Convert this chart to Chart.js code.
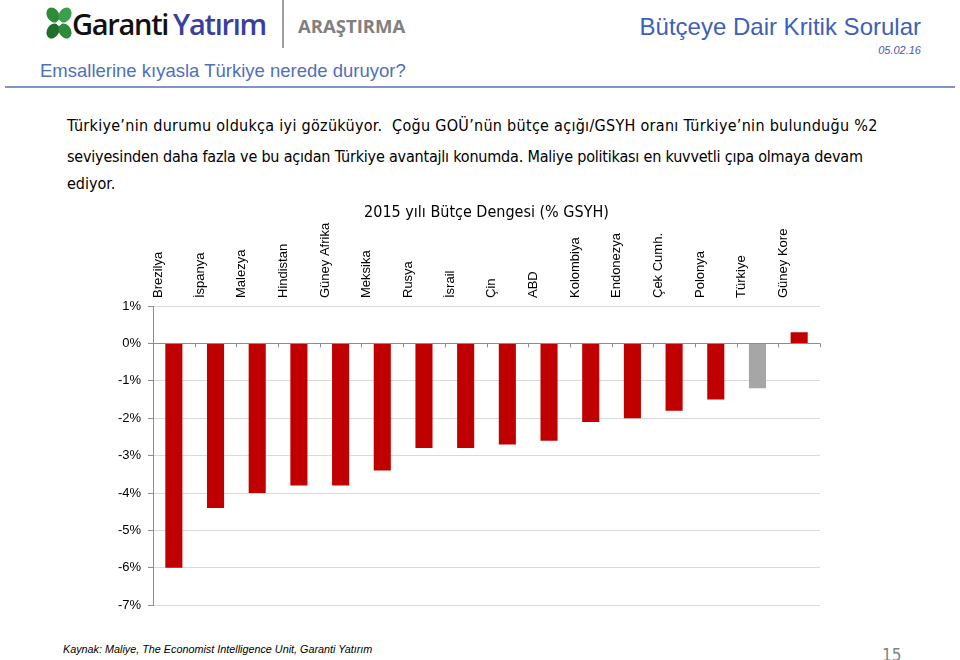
<!DOCTYPE html>
<html>
<head>
<meta charset="utf-8">
<script src="https://cdn.jsdelivr.net/npm/chart.js@4.4.1/dist/chart.umd.min.js"></script>
<style>
  html, body { margin:0; padding:0; background:#fff; }
  body { width:960px; height:660px; position:relative; overflow:hidden; font-family:"Liberation Sans", Arial, sans-serif; }
  .abs { position:absolute; white-space:nowrap; }
  #logo { left:44px; top:4px; }
  #brand { left:72px; top:0px; font-family:"Open Sans", sans-serif; font-weight:600; font-size:29px; letter-spacing:-1.3px; line-height:48px; }
  #brand .g { color:#111; margin-right:5px; }
  #brand .y { color:#3b3f9c; }
  #vline { left:282px; top:0; width:2px; height:48px; background:#a0a0a0; }
  #arastirma { left:298px; top:13px; font-family:"Open Sans", sans-serif; font-weight:700; font-size:18.5px; color:#808080; }
  #htitle { right:39px; top:13px; font-size:24px; color:#3d61b8; }
  #hdate { right:39px; top:44px; font-size:11px; font-style:italic; color:#4a5aa8; }
  #sub { left:40px; top:60px; font-size:18.5px; color:#4e70bd; }
  #hline { left:5px; top:86px; width:950px; height:2px; background:#7f95c9; }
  .body { left:67px; font-family:"Liberation Sans Narrow","Arial Narrow","DejaVu Sans Condensed",sans-serif; font-size:16px; color:#000; }
  #foot { left:63px; top:643px; font-family:"Liberation Sans", Arial, sans-serif; font-style:italic; font-size:10.8px; color:#000; }
  #page { left:882px; top:645px; font-family:"Liberation Sans Narrow","Arial Narrow","DejaVu Sans Condensed",sans-serif; font-size:17px; color:#808080; }
  #wrap { position:absolute; left:60px; top:180px; width:790px; height:440px; }
</style>
</head>
<body>
<svg id="logo" class="abs" width="30" height="40" viewBox="0 0 30 40">
  <g fill="#2f8a3a">
    <ellipse cx="9" cy="11" rx="6" ry="8" transform="rotate(-30 9 11)"/>
    <ellipse cx="21" cy="11" rx="6" ry="8" transform="rotate(30 21 11)" fill="#3aa14a"/>
    <ellipse cx="9" cy="27" rx="6" ry="8" transform="rotate(30 9 27)" fill="#1f6e2c"/>
    <ellipse cx="21" cy="27" rx="6" ry="8" transform="rotate(-30 21 27)"/>
  </g>
  <circle cx="15" cy="19" r="2.5" fill="#fff"/>
</svg>
<div id="brand" class="abs"><span class="g">Garanti</span><span class="y">Yatırım</span></div>
<div id="vline" class="abs"></div>
<div id="arastirma" class="abs">ARAŞTIRMA</div>
<div id="htitle" class="abs">Bütçeye Dair Kritik Sorular</div>
<div id="hdate" class="abs">05.02.16</div>
<div id="sub" class="abs">Emsallerine kıyasla Türkiye nerede duruyor?</div>
<div id="hline" class="abs"></div>
<div class="abs body" style="top:116px; letter-spacing:0.29px">Türkiye’nin durumu oldukça iyi gözüküyor.&nbsp; Çoğu GOÜ’nün bütçe açığı/GSYH oranı Türkiye’nin bulunduğu %2</div>
<div class="abs body" style="top:147px; letter-spacing:-0.2px">seviyesinden daha fazla ve bu açıdan Türkiye avantajlı konumda. Maliye politikası en kuvvetli çıpa olmaya devam</div>
<div class="abs body" style="top:174px">ediyor.</div>
<div id="wrap"><canvas id="c"></canvas></div>
<div id="foot" class="abs">Kaynak: Maliye, The Economist Intelligence Unit, Garanti Yatırım</div>
<div id="page" class="abs">15</div>
<script>
const chartTitle = "2015 yılı Bütçe Dengesi (% GSYH)";
const categories = ["Brezilya","İspanya","Malezya","Hindistan","Güney Afrika","Meksika","Rusya","İsrail","Çin","ABD","Kolombiya","Endonezya","Çek Cumh.","Polonya","Türkiye","Güney Kore"];
const budgetBalance = [-6.0,-4.4,-4.0,-3.8,-3.8,-3.4,-2.8,-2.8,-2.7,-2.6,-2.1,-2.0,-1.8,-1.5,-1.2,0.3];
const highlightCategory = "Türkiye";
const yMin = -7, yMax = 1, yStep = 1;

const barColors = categories.map(c => c === highlightCategory ? "#a6a6a6" : "#c00000");

const zeroTicks = {
  id: "zeroTicks",
  afterDatasetsDraw(chart) {
    const x = chart.scales.x, y = chart.scales.y;
    const y0 = y.getPixelForValue(0);
    const ctx = chart.ctx;
    ctx.save();
    ctx.strokeStyle = "#8c8c8c";
    ctx.lineWidth = 1;
    ctx.beginPath();
    for (let i = 0; i <= categories.length; i++) {
      const px = Math.round(x.left + (x.right - x.left) * i / categories.length) + 0.5;
      ctx.moveTo(px, y0);
      ctx.lineTo(px, y0 + 4);
    }
    ctx.stroke();
    ctx.restore();
  }
};

new Chart(document.getElementById("c"), {
  type: "bar",
  data: {
    labels: categories,
    datasets: [{
      data: budgetBalance,
      backgroundColor: barColors,
      barPercentage: 0.41,
      categoryPercentage: 1.0
    }]
  },
  options: {
    responsive: true,
    maintainAspectRatio: false,
    animation: false,
    layout: { padding: { left: 0, right: 30, top: 0, bottom: 11 } },
    plugins: {
      legend: { display: false },
      tooltip: { enabled: false },
      title: {
        display: true,
        fullSize: false,
        text: chartTitle,
        color: "#000",
        font: { family: "'Liberation Sans Narrow','Arial Narrow','DejaVu Sans Condensed',sans-serif", size: 16, weight: "normal" },
        padding: { top: 23, bottom: -3 }
      }
    },
    scales: {
      x: {
        position: "top",
        grid: { display: false, drawTicks: false },
        border: { display: false },
        ticks: {
          minRotation: 90, maxRotation: 90, autoSkip: false,
          color: "#000", padding: 8,
          font: { family: "'Liberation Sans', Arial, sans-serif", size: 13 }
        },
        afterFit(scale) { scale.height = 86.8; }
      },
      y: {
        min: yMin, max: yMax,
        ticks: {
          stepSize: yStep,
          color: "#000",
          padding: 7,
          font: { family: "'Liberation Sans', Arial, sans-serif", size: 13 },
          callback: v => v + "%"
        },
        grid: {
          color: ctx => (ctx.tick && ctx.tick.value === 0) ? "#8c8c8c" : "#d9d9d9",
          tickColor: "#8c8c8c",
          tickLength: 5,
          lineWidth: 1
        },
        border: { display: true, color: "#8c8c8c" },
        afterFit(scale) { scale.width = 93; }
      }
    }
  },
  plugins: [zeroTicks]
});
</script>
</body>
</html>
